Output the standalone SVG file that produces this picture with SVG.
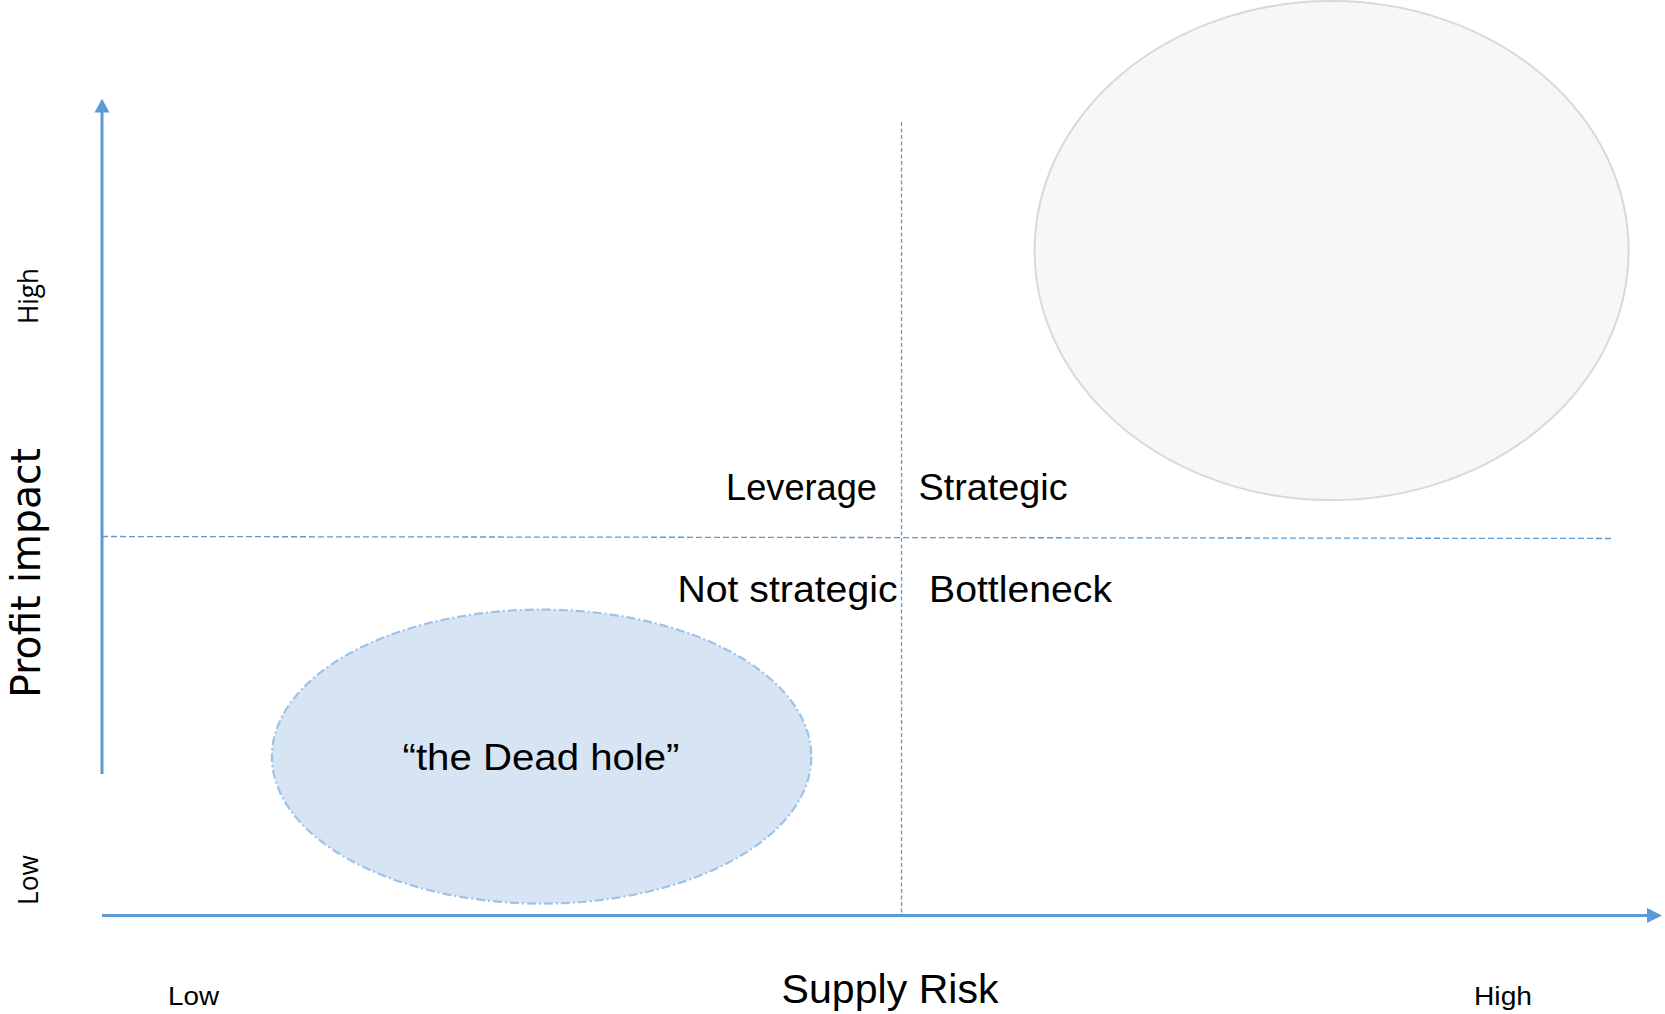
<svg xmlns="http://www.w3.org/2000/svg" width="1665" height="1014" viewBox="0 0 1665 1014">
<style>
.axis{stroke:#5B9BD5;stroke-width:3;fill:none}
.head{fill:#5B9BD5}
.grid{stroke:#5B9BD5;stroke-width:1.3;fill:none}
.lbl{font-family:"Liberation Sans",Arial,sans-serif;fill:#000}
.vlbl{font-family:"Open Sans","DejaVu Sans",sans-serif;fill:#000}
.vtitle{font-family:"DejaVu Sans",sans-serif;fill:#000}
</style>
<rect width="1665" height="1014" fill="#FFFFFF"/>
<g id="strategic-zone">
<ellipse cx="1331.6" cy="250.6" rx="297" ry="249.5" fill="#F7F7F7" stroke="#D9D9D9" stroke-width="2"/>
</g>
<g id="dead-hole">
<ellipse cx="541.6" cy="756.6" rx="269.7" ry="147" fill="#D6E4F3" stroke="#9DC3E6" stroke-width="2.2" stroke-dasharray="9,3,2,3"/>
<text class="lbl" x="402.5" y="770" font-size="37" textLength="277" lengthAdjust="spacingAndGlyphs">“the Dead hole”</text>
</g>
<g id="connectors">
<line class="grid" x1="901.5" y1="122" x2="901.5" y2="915" stroke-dasharray="4,2.5"/>
<line class="grid" x1="102" y1="536.5" x2="1612" y2="538.5" stroke-dasharray="6,3"/>
<line class="axis" x1="102" y1="774" x2="102" y2="110"/>
<polygon class="head" points="102,98.8 94.5,112.6 109.5,112.6"/>
<line class="axis" x1="102" y1="915.5" x2="1650" y2="915.5"/>
<polygon class="head" points="1662,915.5 1647,908 1647,923"/>
</g>
<g id="quadrant-leverage">
<text class="lbl" x="726" y="500" font-size="37" textLength="151" lengthAdjust="spacingAndGlyphs">Leverage</text>
</g>
<g id="quadrant-strategic">
<text class="lbl" x="918.6" y="500" font-size="37" textLength="149" lengthAdjust="spacingAndGlyphs">Strategic</text>
</g>
<g id="quadrant-not-strategic">
<text class="lbl" x="677.5" y="602" font-size="37" textLength="220" lengthAdjust="spacingAndGlyphs">Not strategic</text>
</g>
<g id="quadrant-bottleneck">
<text class="lbl" x="929" y="602" font-size="37" textLength="183" lengthAdjust="spacingAndGlyphs">Bottleneck</text>
</g>
<g id="x-axis-labels">
<text class="lbl" x="781.6" y="1003" font-size="40" textLength="217" lengthAdjust="spacingAndGlyphs">Supply Risk</text>
<text class="lbl" x="168" y="1004.5" font-size="26" textLength="51" lengthAdjust="spacingAndGlyphs">Low</text>
<text class="lbl" x="1474" y="1004.5" font-size="26" textLength="58" lengthAdjust="spacingAndGlyphs">High</text>
</g>
<g id="y-axis-labels">
<text class="vtitle" transform="translate(40,697.7) rotate(-90)" x="0" y="0" font-size="41" textLength="249.5" lengthAdjust="spacingAndGlyphs">Profit impact</text>
<text class="vlbl" transform="translate(37.5,324) rotate(-90)" x="0" y="0" font-size="27" textLength="56" lengthAdjust="spacingAndGlyphs">High</text>
<text class="vlbl" transform="translate(38,905) rotate(-90)" x="0" y="0" font-size="27" textLength="50" lengthAdjust="spacingAndGlyphs">Low</text>
</g>
</svg>
